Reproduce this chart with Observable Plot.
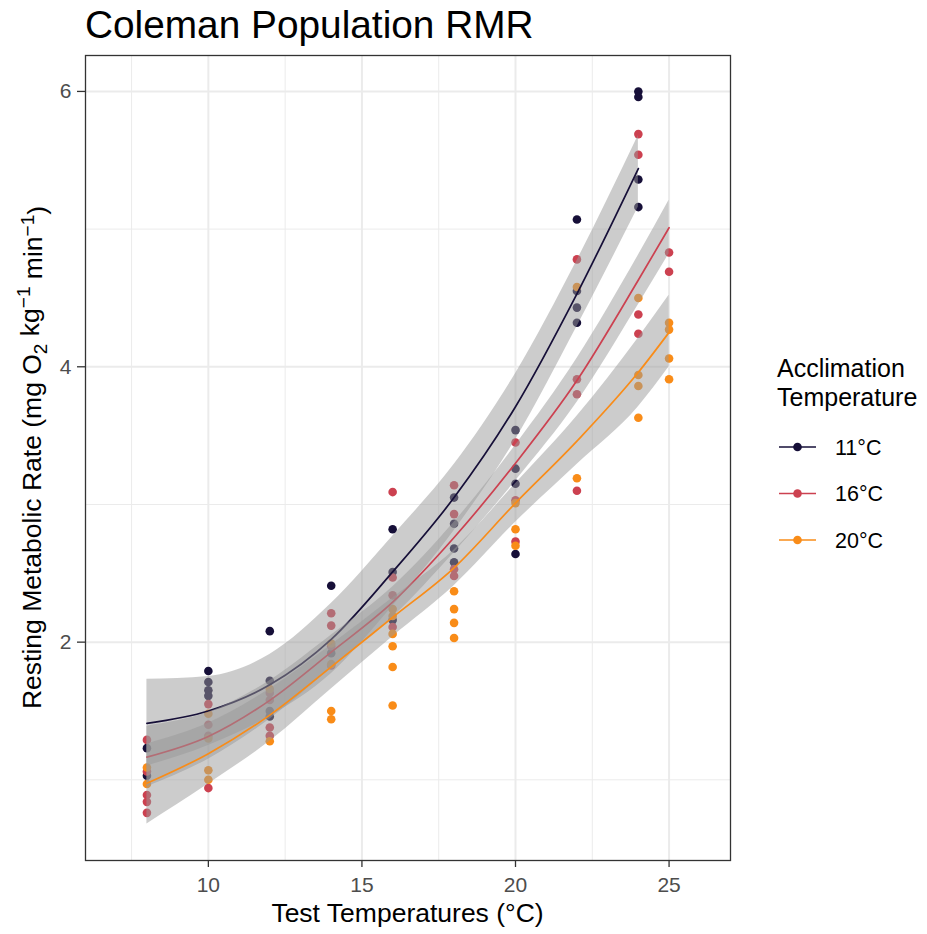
<!DOCTYPE html>
<html><head><meta charset="utf-8">
<script src="https://cdn.jsdelivr.net/npm/d3@7"></script>
<script src="https://cdn.jsdelivr.net/npm/@observablehq/plot@0.6"></script>
<style>
body{margin:0;background:#fff;font-family:"Liberation Sans",Arial,sans-serif;}
#wrap{position:relative;width:927px;height:934px;overflow:hidden;}
#title{height:50px;line-height:50px;padding-left:85px;font-size:38.8px;color:#000;white-space:nowrap;}
#legend{position:absolute;left:760px;top:340px;}
</style></head><body>
<div id="wrap">
<div id="title">Coleman Population RMR</div>
<div id="chart"></div>
<svg id="legend" width="167" height="220"></svg>
</div>
<script>
// ---- data ----
const groups = ["11°C", "16°C", "20°C"];
const colors = ["#160F38", "#CC4150", "#F98C18"];
const xMajor = [10, 15, 20, 25];
const xMinor = [7.5, 12.5, 17.5, 22.5];
const yMajor = [2, 4, 6];
const yMinor = [1, 3, 5];

const pts11 = [[8,1.23],[8,1.03],[10,1.79],[10,1.71],[10,1.65],[10,1.61],[12,2.08],[12,1.72],[12,1.50],[12,1.46],
  [14,2.41],[14,1.92],[16,2.82],[16,2.51],[16,2.16],[18,3.05],[18,2.86],[18,2.68],[18,2.58],
  [20,3.54],[20,3.26],[20,3.15],[20,2.64],[22,5.07],[22,4.55],[22,4.43],[22,4.32],[24,6.00],[24,5.96],[24,5.36],[24,5.16]];
const pts16 = [[8,1.29],[8,1.06],[8,0.89],[8,0.84],[8,0.76],[10,1.55],[10,1.40],[10,1.32],[10,0.94],
  [12,1.63],[12,1.58],[12,1.38],[12,1.32],[14,2.21],[14,2.12],[14,1.97],[14,1.83],[16,3.09],[16,2.47],[16,2.34],[16,2.11],
  [18,3.14],[18,2.93],[18,2.53],[18,2.48],[20,3.45],[20,3.03],[20,2.73],[22,4.78],[22,3.91],[22,3.80],[22,3.10],
  [24,5.69],[24,5.54],[24,4.38],[24,4.24],[25,4.83],[25,4.69]];
const pts20 = [[8,1.09],[8,0.97],[10,1.48],[10,1.30],[10,1.07],[10,1.00],[12,1.66],[12,1.28],
  [14,1.99],[14,1.84],[14,1.50],[14,1.44],[16,2.24],[16,2.19],[16,2.06],[16,1.97],[16,1.82],[16,1.54],
  [18,2.37],[18,2.24],[18,2.14],[18,2.03],[20,3.01],[20,2.82],[20,2.70],[22,4.58],[22,3.19],
  [24,4.50],[24,3.94],[24,3.86],[24,3.63],[25,4.32],[25,4.27],[25,4.06],[25,3.91]];

const fx11  = [8, 10, 12, 14, 16, 18, 20, 22, 24];
const fit11 = [1.41, 1.50, 1.69, 2.02, 2.51, 3.05, 3.71, 4.53, 5.44];
const lo11  = [1.10, 1.25, 1.46, 1.77, 2.26, 2.81, 3.47, 4.29, 5.16];
const hi11  = [1.73, 1.75, 1.91, 2.28, 2.77, 3.29, 3.95, 4.77, 5.68];

const fx16  = [8, 10, 12, 14, 16, 18, 20, 22, 24, 25];
const fit16 = [1.165, 1.315, 1.577, 1.927, 2.29, 2.76, 3.30, 3.90, 4.63, 5.01];
const lo16  = [0.95, 1.15, 1.44, 1.81, 2.18, 2.65, 3.17, 3.74, 4.45, 4.82];
const hi16  = [1.39, 1.49, 1.72, 2.05, 2.40, 2.87, 3.43, 4.06, 4.81, 5.21];

const fx20  = [8, 10, 12, 14, 16, 18, 20, 22, 24, 25];
const fit20 = [0.975, 1.19, 1.47, 1.82, 2.18, 2.54, 3.01, 3.46, 3.96, 4.25];
const lo20  = [0.68, 0.97, 1.28, 1.66, 2.04, 2.41, 2.87, 3.29, 3.71, 4.00];
const hi20  = [1.26, 1.41, 1.66, 1.98, 2.32, 2.67, 3.15, 3.64, 4.21, 4.52];

// ---- build tables ----
const mk = (fx, fit, lo, hi) => fx.map((x, i) => ({x, fit: fit[i], lo: lo[i], hi: hi[i]}));
const series = [mk(fx11, fit11, lo11, hi11), mk(fx16, fit16, lo16, hi16), mk(fx20, fit20, lo20, hi20)];
const ptsData = [pts11, pts16, pts20].flatMap((arr, g) => arr.map(([x, y]) => ({x, y, g: groups[g]})));

const W = 927, H = 884, mL = 85, mR = 197, mT = 5, mB = 74;
const svg = Plot.plot({
  width: W, height: H,
  marginLeft: mL, marginRight: mR, marginTop: mT, marginBottom: mB,
  x: {domain: [6, 27]},
  y: {domain: [0.414, 6.261]},
  color: {domain: groups, range: colors},
  style: {fontFamily: "Liberation Sans, Arial, sans-serif", background: "white", overflow: "visible"},
  marks: [
    Plot.ruleX(xMinor, {stroke: "#EBEBEB", strokeWidth: 1}),
    Plot.ruleY(yMinor, {stroke: "#EBEBEB", strokeWidth: 1}),
    Plot.ruleX(xMajor, {stroke: "#EBEBEB", strokeWidth: 2}),
    Plot.ruleY(yMajor, {stroke: "#EBEBEB", strokeWidth: 2}),
    Plot.dot(ptsData, {x: "x", y: "y", fill: "g", r: 4.3}),
    ...series.flatMap((s, i) => [
      Plot.areaY(s, {x: "x", y1: "lo", y2: "hi", fill: "#999999", fillOpacity: 0.5, curve: "monotone-x"}),
      Plot.line(s, {x: "x", y: "fit", stroke: colors[i], strokeWidth: 1.7, curve: "monotone-x"})
    ]),
    Plot.frame({stroke: "#333333", strokeWidth: 1.3}),
    Plot.axisX(xMajor, {tickSize: 7, tickPadding: 10, fontSize: 21, fill: "#4D4D4D", stroke: "#333333", strokeWidth: 1.3, label: null, tickFormat: d => String(d)}),
    Plot.axisY(yMajor, {tickSize: 8, tickPadding: 6, fontSize: 21, fill: "#4D4D4D", stroke: "#333333", strokeWidth: 1.3, label: null, tickFormat: d => String(d)})
  ]
});
document.getElementById("chart").appendChild(svg);

// axis titles
const s = d3.select(svg);
s.append("text")
  .attr("x", mL + (W - mL - mR) / 2).attr("y", 872)
  .attr("text-anchor", "middle").attr("font-size", 26.5).attr("fill", "#000")
  .text("Test Temperatures (°C)");
const yt = s.append("text")
  .attr("transform", `translate(41,${mT + (H - mT - mB) / 2}) rotate(-90)`)
  .attr("text-anchor", "middle").attr("font-size", 26.5).attr("fill", "#000");
yt.append("tspan").text("Resting Metabolic Rate (mg O");
yt.append("tspan").attr("dy", "0.3em").attr("font-size", 19).text("2");
yt.append("tspan").attr("dy", "-0.3em").text(" kg");
yt.append("tspan").attr("dy", "-0.45em").attr("font-size", 19).text("−1");
yt.append("tspan").attr("dy", "0.45em").text(" min");
yt.append("tspan").attr("dy", "-0.45em").attr("font-size", 19).text("−1");
yt.append("tspan").attr("dy", "0.45em").text(")");

// legend
const lg = d3.select("#legend").style("font-family", "Liberation Sans, Arial, sans-serif");
lg.append("text").attr("x", 17).attr("y", 37).attr("font-size", 25).text("Acclimation");
lg.append("text").attr("x", 17).attr("y", 65.5).attr("font-size", 25).text("Temperature");
groups.forEach((g, i) => {
  const cy = 107 + i * 46.5;
  lg.append("line").attr("x1", 19).attr("x2", 56).attr("y1", cy).attr("y2", cy)
    .attr("stroke", colors[i]).attr("stroke-width", 1.7);
  lg.append("circle").attr("cx", 37.5).attr("cy", cy).attr("r", 4.3).attr("fill", colors[i]);
  lg.append("text").attr("x", 75).attr("y", cy).attr("dy", "0.35em").attr("font-size", 21.5).text(g);
});
</script>
</body></html>
